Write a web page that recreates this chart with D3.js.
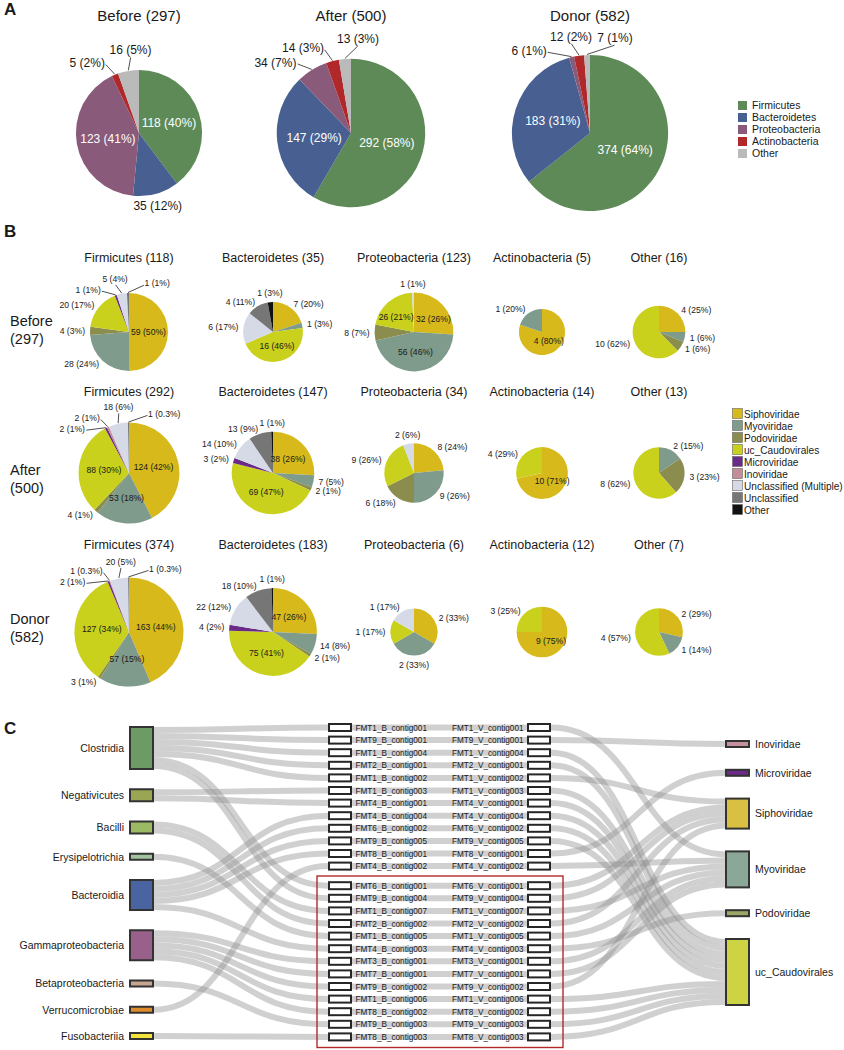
<!DOCTYPE html>
<html><head><meta charset="utf-8">
<script src="https://cdn.jsdelivr.net/npm/d3@7"></script>
<style>
body{margin:0;background:#fff}
svg{display:block}
text{font-family:"Liberation Sans",Arial,Helvetica,sans-serif;fill:#1a1a1a}
</style></head>
<body><svg id="c" width="844" height="1050"></svg>
<script>
// ---------------- DATA ----------------
// Panel A
const groupsA = ["Before", "After", "Donor"];
const phyla = ["Firmicutes", "Bacteroidetes", "Proteobacteria", "Actinobacteria", "Other"];
const countsBefore = [118, 35, 123, 5, 16];
const countsAfter = [292, 147, 34, 14, 13];
const countsDonor = [374, 183, 6, 12, 7];

// Panel B (viral family counts per host phylum)
const families = ["Siphoviridae", "Myoviridae", "Podoviridae", "uc_Caudovirales", "Microviridae", "Inoviridae", "Unclassified (Multiple)", "Unclassified", "Other"];
const before_Firmicutes = [59, 28, 4, 20, 1, 0, 5, 1, 0];
const before_Bacteroidetes = [7, 1, 0, 16, 0, 0, 6, 4, 1];
const before_Proteobacteria = [32, 56, 8, 26, 0, 0, 1, 0, 0];
const before_Actinobacteria = [4, 1, 0, 0, 0, 0, 0, 0, 0];
const before_Other = [4, 1, 1, 10, 0, 0, 0, 0, 0];
const after_Firmicutes = [124, 53, 4, 88, 2, 2, 18, 1, 0];
const after_Bacteroidetes = [38, 7, 2, 69, 3, 0, 14, 13, 1];
const after_Proteobacteria = [8, 9, 6, 9, 0, 0, 2, 0, 0];
const after_Actinobacteria = [10, 0, 0, 4, 0, 0, 0, 0, 0];
const after_Other = [0, 2, 3, 8, 0, 0, 0, 0, 0];
const donor_Firmicutes = [163, 57, 3, 127, 2, 1, 20, 1, 0];
const donor_Bacteroidetes = [47, 14, 2, 75, 4, 0, 22, 18, 1];
const donor_Proteobacteria = [2, 2, 0, 1, 0, 0, 1, 0, 0];
const donor_Actinobacteria = [9, 0, 0, 3, 0, 0, 0, 0, 0];
const donor_Other = [2, 1, 0, 4, 0, 0, 0, 0, 0];

// Panel C
const hostClasses = ["Clostridia", "Negativicutes", "Bacilli", "Erysipelotrichia", "Bacteroidia", "Gammaproteobacteria", "Betaproteobacteria", "Verrucomicrobiae", "Fusobacteriia"];
const viralFamilies = ["Inoviridae", "Microviridae", "Siphoviridae", "Myoviridae", "Podoviridae", "uc_Caudovirales"];
const contigSample = ["FMT1","FMT9","FMT1","FMT2","FMT1","FMT1","FMT4","FMT4","FMT6","FMT9","FMT8","FMT4","FMT6","FMT9","FMT1","FMT2","FMT1","FMT4","FMT3","FMT7","FMT9","FMT1","FMT8","FMT9","FMT8"];
const contigNumber = ["001","001","004","001","002","003","001","004","002","005","001","002","001","004","007","002","005","003","001","001","002","006","002","003","003"];
const contigHost = ["Clostridia","Clostridia","Clostridia","Clostridia","Clostridia","Negativicutes","Negativicutes","Bacteroidia","Bacteroidia","Bacteroidia","Bacteroidia","Verrucomicrobiae","Clostridia","Clostridia","Bacilli","Bacilli","Erysipelotrichia","Bacteroidia","Gammaproteobacteria","Gammaproteobacteria","Gammaproteobacteria","Gammaproteobacteria","Gammaproteobacteria","Betaproteobacteria","Fusobacteriia"];
const contigFamily = ["Myoviridae","Inoviridae","uc_Caudovirales","uc_Caudovirales","Siphoviridae","uc_Caudovirales","uc_Caudovirales","uc_Caudovirales","uc_Caudovirales","uc_Caudovirales","Microviridae","Myoviridae","Siphoviridae","Siphoviridae","Myoviridae","Siphoviridae","Myoviridae","Podoviridae","Myoviridae","Myoviridae","Siphoviridae","uc_Caudovirales","uc_Caudovirales","uc_Caudovirales","uc_Caudovirales"];
const highlightedFrom = 12; // contigs from this index on are boxed

// ---------------- STYLE ----------------
const phylumColors = ["#5d8a57", "#475f91", "#8a5a7a", "#b1282b", "#bababa"];
const familyColors = ["#d8b91c", "#7f9b8b", "#8a8d4e", "#c9d11c", "#6a2b88", "#c48c96", "#d6dae7", "#767676", "#121212"];
const hostColors = ["#6c9b63", "#9aa653", "#9cba63", "#a3c3a0", "#4a63a1", "#98608a", "#c6a591", "#de8b2c", "#f2e43c"];
const famNodeColors = ["#c8909c", "#6a2a86", "#d9c043", "#8aa797", "#9ba865", "#cdd343"];

const svg = d3.select("#c");

function pctStr(v, t) {
  const p = v / t * 100;
  if (p < 0.5) return p.toFixed(1);
  const f = Math.floor(p), d = p - f;
  if (Math.abs(d - 0.5) < 1e-9) return String(f % 2 === 0 ? f : f + 1);
  return String(Math.round(p));
}
function measure(text, size) {
  const t = svg.append("text").attr("font-size", size).text(text);
  const w = t.node().getComputedTextLength();
  t.remove();
  return w;
}

function drawPie(o) {
  const { values, colors, cx, cy, r, fs, insideFn, insideR, insideColor, pad, leaderPad } = o;
  const total = d3.sum(values);
  const g = svg.append("g");
  const arcs = d3.pie().sort(null).value(d => d)(values);
  g.selectAll("path").data(arcs.filter(a => a.value > 0)).join("path")
    .attr("transform", `translate(${cx},${cy})`)
    .attr("d", d3.arc().innerRadius(0).outerRadius(r))
    .attr("fill", d => colors[d.index]);
  const outs = [], ins = [];
  arcs.forEach(a => {
    if (a.value <= 0) return;
    const mid = (a.startAngle + a.endAngle) / 2, frac = a.value / total;
    const text = `${a.value} (${pctStr(a.value, total)}%)`;
    if (insideFn(frac, r, a.index)) {
      ins.push({ x: cx + insideR * r * Math.sin(mid), y: cy - insideR * r * Math.cos(mid), text, w: measure(text, fs) });
    } else {
      const m = mid > Math.PI ? mid - 2 * Math.PI : mid;
      outs.push({ mid: m, ang: m, text, w: measure(text, fs), R: r + pad });
    }
  });
  // resolve overlaps between inside labels (horizontal push)
  for (let it = 0; it < 200; it++) {
    let mv = false;
    for (let i = 0; i < ins.length; i++) for (let j = i + 1; j < ins.length; j++) {
      const a = ins[i], b = ins[j];
      const ox = (a.w + b.w) / 2 + 2 - Math.abs(a.x - b.x), oy = fs + 1 - Math.abs(a.y - b.y);
      if (ox > 0 && oy > 0) {
        const s = a.x <= b.x ? 1 : -1;
        a.x -= s * 0.5; b.x += s * 0.5; mv = true;
      }
    }
    if (!mv) break;
  }
  ins.forEach(l => g.append("text").attr("x", l.x).attr("y", l.y + fs * 0.35).attr("text-anchor", "middle")
    .attr("font-size", fs).style("fill", insideColor).text(l.text));

  outs.sort((a, b) => a.mid - b.mid);
  const h = fs;
  function place(l) {
    const s = Math.sin(l.ang), c = Math.cos(l.ang);
    const x = cx + l.R * s, y = cy - l.R * c;
    let anchor, x0, by;
    if (s > 0.3) { anchor = "start"; x0 = x; }
    else if (s < -0.3) { anchor = "end"; x0 = x - l.w; }
    else { anchor = "middle"; x0 = x - l.w / 2; }
    if (anchor === "middle") by = c > 0 ? y - 1 : y + h * 0.85;
    else by = y + h * 0.35;
    l.x = x; l.by = by; l.anchor = anchor;
    l.box = [x0, by - h * 0.8, x0 + l.w, by + h * 0.2];
  }
  function overlap(a, b) {
    const m = 1;
    return a.box[0] < b.box[2] + m && b.box[0] < a.box[2] + m && a.box[1] < b.box[3] + m && b.box[1] < a.box[3] + m;
  }
  function relax() {
    for (let it = 0; it < 600; it++) {
      outs.forEach(place);
      let mv = false;
      for (let i = 0; i < outs.length; i++) for (let j = i + 1; j < outs.length; j++) {
        if (overlap(outs[i], outs[j])) { outs[i].ang -= 0.005; outs[j].ang += 0.005; mv = true; }
      }
      if (!mv) break;
    }
    outs.forEach(place);
  }
  relax();
  outs.forEach(l => { if (Math.abs(l.ang - l.mid) > 0.04) { l.leader = true; l.R = r + leaderPad; } });
  relax();
  outs.forEach(l => {
    if (l.leader) {
      g.append("line")
        .attr("x1", cx + (r + 0.5) * Math.sin(l.mid)).attr("y1", cy - (r + 0.5) * Math.cos(l.mid))
        .attr("x2", cx + (l.R - 2) * Math.sin(l.ang)).attr("y2", cy - (l.R - 2) * Math.cos(l.ang))
        .attr("stroke", "#222").attr("stroke-width", 0.8);
    }
    g.append("text").attr("x", l.x).attr("y", l.by).attr("text-anchor", l.anchor)
      .attr("font-size", fs).text(l.text);
  });
}

// ---------------- PANEL A ----------------
svg.append("text").attr("x", 4).attr("y", 15).attr("font-size", 17).attr("font-weight", "bold").text("A");
const countsA = [countsBefore, countsAfter, countsDonor];
const aCX = [139, 351, 590], aCY = 133;
const rA = n => 25.5 + 2.18 * Math.sqrt(n);
countsA.forEach((vals, gi) => {
  const tot = d3.sum(vals);
  svg.append("text").attr("x", aCX[gi]).attr("y", 21).attr("text-anchor", "middle").attr("font-size", 15)
    .text(`${groupsA[gi]} (${tot})`);
  drawPie({ values: vals, colors: phylumColors, cx: aCX[gi], cy: aCY, r: rA(tot), fs: 12,
    insideFn: f => f >= 0.25, insideR: 0.5, insideColor: "#fff", pad: 6, leaderPad: 15 });
});
const legA = svg.append("g");
phyla.forEach((p, i) => {
  legA.append("rect").attr("x", 738).attr("y", 101 + 12 * i).attr("width", 9).attr("height", 9).attr("fill", phylumColors[i]);
  legA.append("text").attr("x", 752).attr("y", 109 + 12 * i).attr("font-size", 10.5).text(p);
});

// ---------------- PANEL B ----------------
svg.append("text").attr("x", 4).attr("y", 237).attr("font-size", 17).attr("font-weight", "bold").text("B");
const bRows = [
  [before_Firmicutes, before_Bacteroidetes, before_Proteobacteria, before_Actinobacteria, before_Other],
  [after_Firmicutes, after_Bacteroidetes, after_Proteobacteria, after_Actinobacteria, after_Other],
  [donor_Firmicutes, donor_Bacteroidetes, donor_Proteobacteria, donor_Actinobacteria, donor_Other]
];
const colX = [129, 273, 414, 542, 659];
const rowTitleY = [261.5, 395.5, 548.5];
const rowCY = [332, 473, 632];
const rowLabelY = [[326, 344], [475, 493], [624, 642]];
const rB = n => 19 + 1.84 * Math.sqrt(n);
const insideOverride = { "0-2-3": true };
bRows.forEach((row, ri) => {
  const tot = d3.sum(countsA[ri]);
  svg.append("text").attr("x", 10).attr("y", rowLabelY[ri][0]).attr("font-size", 14.5).text(groupsA[ri]);
  svg.append("text").attr("x", 10).attr("y", rowLabelY[ri][1]).attr("font-size", 14.5).text(`(${tot})`);
  row.forEach((vals, ci) => {
    const n = d3.sum(vals);
    svg.append("text").attr("x", colX[ci]).attr("y", rowTitleY[ri]).attr("text-anchor", "middle")
      .attr("font-size", 12.5).text(`${phyla[ci]} (${n})`);
    drawPie({ values: vals, colors: familyColors, cx: colX[ci], cy: rowCY[ri], r: rB(n), fs: 8.6,
      insideFn: (f, r, idx) => insideOverride[`${ri}-${ci}-${idx}`] ||
        (r >= 38 && f >= 0.25) || (r >= 45 && f >= 0.15) || (r >= 29 && f >= 0.4) || f >= 0.7,
      insideR: 0.5, insideColor: "#1a1a1a", pad: 5, leaderPad: 12 });
  });
});
const legB = svg.append("g");
families.forEach((f, i) => {
  legB.append("rect").attr("x", 732.5).attr("y", 408.5 + 12 * i).attr("width", 10).attr("height", 10)
    .attr("fill", familyColors[i]).attr("stroke", "#666").attr("stroke-width", 0.6);
  legB.append("text").attr("x", 744).attr("y", 417.5 + 12 * i).attr("font-size", 10.1).text(f);
});

// ---------------- PANEL C ----------------
svg.append("text").attr("x", 4).attr("y", 734).attr("font-size", 17).attr("font-weight", "bold").text("C");
const unit = 6;
const rowY = i => 727.5 + 12.6 * i + (i >= highlightedFrom ? 7 : 0);
const xL1 = 153, xB0 = 328, xB1 = 352, xV0 = 527, xV1 = 551, xR0 = 726, nodeW = 23;
function stack(counts, top, bottom) {
  const hs = counts.map(c => c * unit);
  const gap = (bottom - top - d3.sum(hs)) / (counts.length - 1);
  let y = top;
  return hs.map(h => { const o = { y0: y, h }; y += h + gap; return o; });
}
const hostCounts = hostClasses.map(hc => contigHost.filter(x => x === hc).length);
const famCounts = viralFamilies.map(f => contigFamily.filter(x => x === f).length);
const leftPos = stack(hostCounts, 727, 1039);
const rightPos = stack(famCounts, 741, 1005);
const rows = contigSample.map((s, i) => ({ i, s, n: contigNumber[i], host: contigHost[i], fam: contigFamily[i], y: rowY(i) }));
hostClasses.forEach((hc, hi) => {
  rows.filter(r => r.host === hc).forEach((r, k) => { r.ys = leftPos[hi].y0 + unit * (k + 0.5); });
});
viralFamilies.forEach((f, fi) => {
  rows.filter(r => r.fam === f).forEach((r, k) => { r.yt = rightPos[fi].y0 + unit * (k + 0.5); });
});
const link = d3.linkHorizontal();
const linkG = svg.append("g").attr("fill", "none").attr("stroke", "#8e8e8e").attr("stroke-opacity", 0.42).attr("stroke-width", unit);
rows.forEach(r => {
  linkG.append("path").attr("d", link({ source: [xL1, r.ys], target: [xB0, r.y] }));
  linkG.append("path").attr("d", `M${xB0},${r.y}H${xV1}`);
  linkG.append("path").attr("d", link({ source: [xV1, r.y], target: [xR0, r.yt] }));
});
// red highlight box
svg.append("rect").attr("x", 317).attr("y", 876).attr("width", 246).attr("height", 171.5)
  .attr("fill", "none").attr("stroke", "#b5282a").attr("stroke-width", 1.4);
// contig boxes + labels
rows.forEach(r => {
  svg.append("rect").attr("x", xB0 + 1).attr("y", r.y - 3.5).attr("width", xB1 - xB0 - 2).attr("height", 7)
    .attr("fill", "#fff").attr("stroke", "#262626").attr("stroke-width", 2);
  svg.append("rect").attr("x", xV0 + 1).attr("y", r.y - 3.5).attr("width", xV1 - xV0 - 2).attr("height", 7)
    .attr("fill", "#fff").attr("stroke", "#262626").attr("stroke-width", 2);
  svg.append("text").attr("x", xB1 + 3.5).attr("y", r.y + 3).attr("font-size", 8.2).text(`${r.s}_B_contig${r.n}`);
  svg.append("text").attr("x", xV0 - 3.5).attr("y", r.y + 3).attr("font-size", 8.2).attr("text-anchor", "end").text(`${r.s}_V_contig${r.n}`);
});
// host nodes
hostClasses.forEach((hc, hi) => {
  const p = leftPos[hi];
  svg.append("rect").attr("x", xL1 - nodeW).attr("y", p.y0).attr("width", nodeW).attr("height", p.h)
    .attr("fill", hostColors[hi]).attr("stroke", "#333").attr("stroke-width", 2);
  svg.append("text").attr("x", xL1 - nodeW - 6).attr("y", p.y0 + p.h / 2 + 3.8).attr("text-anchor", "end")
    .attr("font-size", 10.5).text(hc);
});
// viral family nodes
viralFamilies.forEach((f, fi) => {
  const p = rightPos[fi];
  svg.append("rect").attr("x", xR0).attr("y", p.y0).attr("width", nodeW).attr("height", p.h)
    .attr("fill", famNodeColors[fi]).attr("stroke", "#333").attr("stroke-width", 2);
  svg.append("text").attr("x", xR0 + nodeW + 6).attr("y", p.y0 + p.h / 2 + 3.8)
    .attr("font-size", 10.5).text(f);
});
</script></body></html>
